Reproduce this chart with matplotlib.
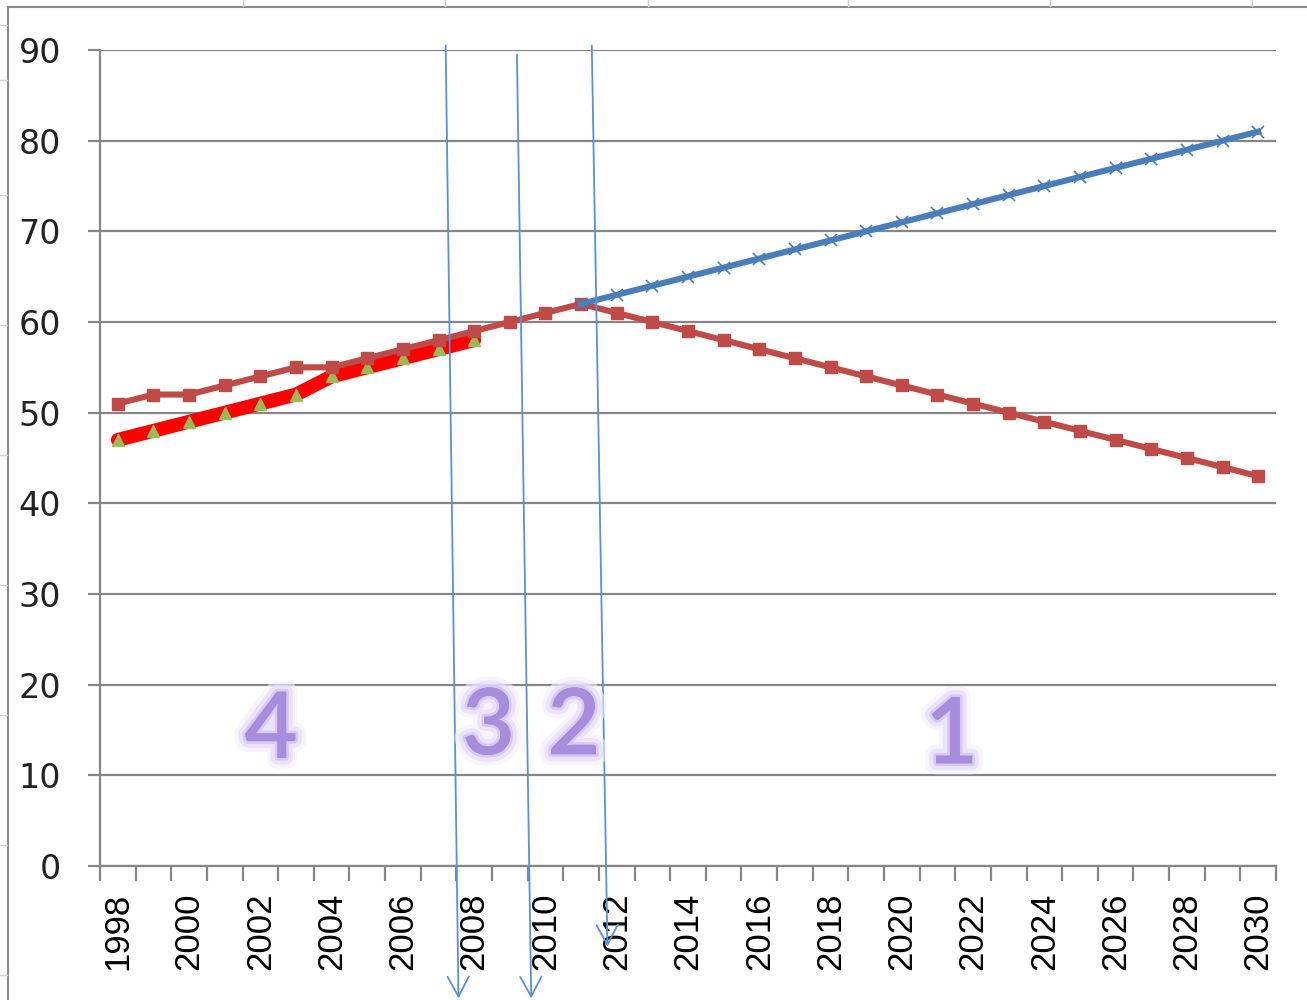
import matplotlib.pyplot as plt
import matplotlib.patheffects as pe
from matplotlib.lines import Line2D

# Data
years = list(range(1998, 2031))
red_values = [51, 52, 52, 53, 54, 55, 55, 56, 57, 58, 59, 60, 61, 62,
              61, 60, 59, 58, 57, 56, 55, 54, 53, 52, 51, 50, 49, 48,
              47, 46, 45, 44, 43]
blue_years = list(range(2011, 2031))
blue_values = [62, 63, 64, 65, 66, 67, 68, 69, 70, 71, 72, 73, 74, 75,
               76, 77, 78, 79, 80, 81]
green_years = list(range(1998, 2009))
green_values = [47, 48, 49, 50, 51, 52, 54, 55, 56, 57, 58]

tick_years = list(range(1998, 2031, 2))
y_ticks = list(range(0, 91, 10))

# Hand-drawn arrows (start x, start y, end x, end y) and region labels
arrows = [(2007.2, 90.5, 2007.56, -14.6),
          (2009.2, 89.5, 2009.6, -14.6),
          (2011.3, 90.5, 2011.74, -8.9)]
region_labels = ['4', '3', '2', '1']
region_x = [2002.3, 2008.4, 2010.8, 2021.4]
region_y = [14.8, 15.2, 15.2, 14.2]

grid_color = '#868686'

fig = plt.figure(figsize=(13.07, 10), dpi=100)
ax = fig.add_axes([100 / 1307, 1 - 866 / 1000, 1176 / 1307, 816 / 1000])

# gridlines
ax.set_ylim(0, 90)
ax.set_xlim(1997.5, 2030.5)
ax.set_yticks(y_ticks)
ax.yaxis.grid(True, color=grid_color, linewidth=1.6)
ax.set_axisbelow(True)

# series
ax.plot(green_years, green_values, color='#ff0000', linewidth=10,
        marker='^', markersize=9, markerfacecolor='#9bbb59',
        markeredgecolor='#9bbb59', solid_capstyle='round', zorder=3)
ax.plot(years, red_values, color='#be4b48', linewidth=4.4,
        marker='s', markersize=9, markerfacecolor='#be4b48',
        markeredgecolor='#be4b48', zorder=4)
ax.plot(blue_years, blue_values, color='#4a7ebb', linewidth=4.4,
        marker='x', markersize=8, markeredgecolor='#4a7ebb',
        markeredgewidth=1.2, zorder=5)

# spines
for s in ['top', 'right']:
    ax.spines[s].set_visible(False)
for s in ['left', 'bottom']:
    ax.spines[s].set_color(grid_color)
    ax.spines[s].set_linewidth(1.6)

# y ticks
ax.tick_params(axis='y', direction='out', length=9, width=1.6,
               color=grid_color, pad=19, labelsize=24, labelcolor='#222222')

# x ticks: labels at category centres, tick marks at boundaries
ax.set_xticks(tick_years)
ax.set_xticklabels([str(y) for y in tick_years], rotation=90,
                   family='Liberation Sans', fontsize=25)
ax.set_xticks([y + 0.5 for y in range(1997, 2031)], minor=True)
ax.tick_params(axis='x', which='major', length=0, pad=19)
ax.tick_params(axis='x', which='minor', direction='out', length=11,
               width=1.6, color=grid_color)

# arrows
for x0, y0, x1, y1 in arrows:
    ax.annotate('', xy=(x1, y1), xytext=(x0, y0), annotation_clip=False,
                arrowprops=dict(arrowstyle='->,head_length=0.65,head_width=0.35',
                                mutation_scale=22, color='#5b8fd6',
                                linewidth=1.3, shrinkA=0, shrinkB=0),
                zorder=6)

# region numbers with soft glow
glow = [pe.withStroke(linewidth=16, foreground='#f3eefc', alpha=0.6),
        pe.withStroke(linewidth=10, foreground='#e6dcf8', alpha=0.7),
        pe.withStroke(linewidth=4, foreground='#d2c3f3', alpha=0.8),
        pe.Normal()]
for lab, x, y in zip(region_labels, region_x, region_y):
    ax.text(x, y, lab, fontsize=66, family='Lato', fontweight='semibold',
            color='#a68edc', ha='center', va='center', zorder=7,
            path_effects=glow)

# chart frame and spreadsheet cell lines
fig.add_artist(Line2D([8 / 1307, 8 / 1307], [0, 1 - 7 / 1000],
                      color='#8a8a8a', linewidth=1.5))
fig.add_artist(Line2D([8 / 1307, 1], [1 - 7 / 1000, 1 - 7 / 1000],
                      color='#8a8a8a', linewidth=1.5))
for cx in [243, 445, 648, 848, 1050, 1252]:
    fig.add_artist(Line2D([cx / 1307, cx / 1307], [1 - 6 / 1000, 1],
                          color='#d0d0d0', linewidth=1))
for cy in [25, 80, 195, 325, 455, 585, 715, 845, 975]:
    fig.add_artist(Line2D([0, 7 / 1307], [1 - cy / 1000, 1 - cy / 1000],
                          color='#d0d0d0', linewidth=1))

fig.savefig('out.png', dpi=100)
